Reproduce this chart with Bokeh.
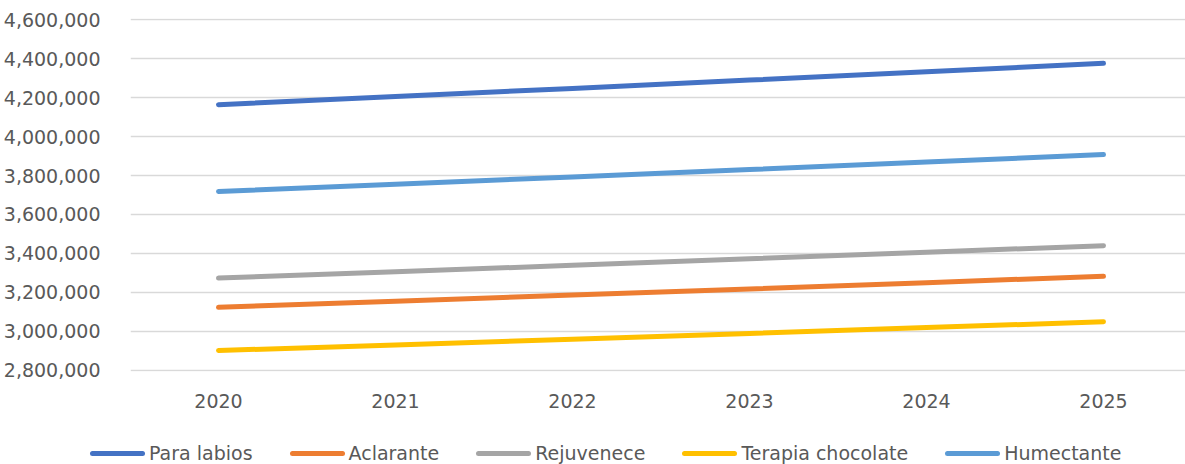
from bokeh.plotting import figure
from bokeh.layouts import column
from bokeh.models import (ColumnDataSource, FixedTicker, NumeralTickFormatter,
                          Range1d, Div)
from bokeh.embed import file_html
from bokeh.resources import INLINE

years = [2020, 2021, 2022, 2023, 2024, 2025]

para_labios = [4164000, 4205600, 4247700, 4290200, 4333100, 4376400]
aclarante = [3123000, 3154200, 3185800, 3217600, 3249800, 3282300]
rejuvenece = [3273000, 3305700, 3338800, 3372200, 3405900, 3439900]
terapia_chocolate = [2901000, 2930000, 2959300, 2988900, 3018800, 3049000]
humectante = [3718000, 3755200, 3792700, 3830700, 3869000, 3907700]

series_names = ["Para labios", "Aclarante", "Rejuvenece", "Terapia chocolate", "Humectante"]
series_values = [para_labios, aclarante, rejuvenece, terapia_chocolate, humectante]
series_colors = ["#4472C4", "#ED7D31", "#A5A5A5", "#FFC000", "#5B9BD5"]

y_ticks = [2800000, 3000000, 3200000, 3400000, 3600000, 3800000,
           4000000, 4200000, 4400000, 4600000]

FONT = "DejaVu Sans"
TEXT = "#595959"
LINE_W = 5

p = figure(width=1185, height=442, output_backend="svg", toolbar_location=None,
           x_range=Range1d(2019.5028, 2025.4633),
           y_range=Range1d(2793322, 4606678),
           min_border_left=130, min_border_right=0,
           min_border_top=18, min_border_bottom=71)
p.outline_line_color = None
p.background_fill_color = "white"
p.border_fill_color = "white"

for name, vals, col in zip(series_names, series_values, series_colors):
    src = ColumnDataSource(dict(x=years, y=vals))
    p.line("x", "y", source=src, line_color=col, line_width=LINE_W,
           line_cap="round", line_join="round")

# y axis: labels only, grey horizontal gridlines
p.yaxis.ticker = FixedTicker(ticks=y_ticks)
p.yaxis.formatter = NumeralTickFormatter(format="0,0")
p.yaxis.axis_line_color = None
p.yaxis.major_tick_line_color = None
p.yaxis.minor_tick_line_color = None
p.yaxis.major_label_standoff = 24
p.yaxis.major_label_text_font = FONT
p.yaxis.major_label_text_font_size = "19px"
p.yaxis.major_label_text_color = TEXT
p.ygrid.ticker = FixedTicker(ticks=y_ticks)
p.ygrid.grid_line_color = "#D9D9D9"
p.ygrid.grid_line_width = 1.3

# x axis: year labels
p.xaxis.ticker = FixedTicker(ticks=years)
p.xaxis.axis_line_color = None
p.xaxis.major_tick_line_color = None
p.xaxis.minor_tick_line_color = None
p.xaxis.major_label_standoff = 16
p.xaxis.major_label_text_font = FONT
p.xaxis.major_label_text_font_size = "19px"
p.xaxis.major_label_text_color = TEXT
p.xgrid.grid_line_color = None

# horizontal legend strip below the chart
entries = []
for i, (name, col) in enumerate(zip(series_names, series_colors)):
    gap = "0" if i == 0 else "37px"
    entries.append(
        f'<span style="display:inline-flex;align-items:center;margin-left:{gap};">'
        f'<span style="display:inline-block;width:55px;height:5px;border-radius:3px;'
        f'background:{col};margin-right:4px;"></span>'
        f'<span>{name}</span></span>'
    )
legend_html = (
    f'<div style="display:flex;align-items:center;height:22px;padding-left:90px;'
    f'font-family:\'{FONT}\';font-size:19px;color:{TEXT};white-space:nowrap;'
    f'line-height:22px;">' + "".join(entries) + '</div>'
)
legend_div = Div(text=legend_html, width=1185, height=22, margin=(0, 0, 0, 0))

layout = column(p, legend_div, spacing=0)
open("out.html", "w").write(file_html(layout, INLINE))
